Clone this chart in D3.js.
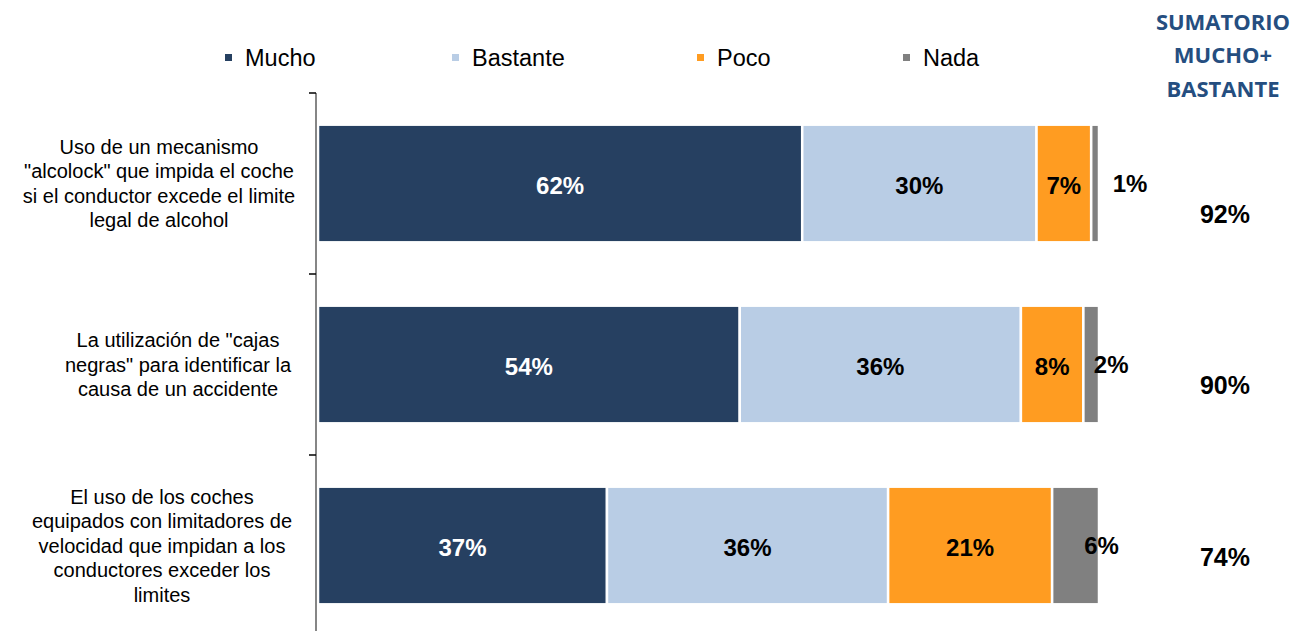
<!DOCTYPE html>
<html>
<head>
<meta charset="utf-8">
<script src="https://cdn.jsdelivr.net/npm/d3@7"></script>
<style>
  body { margin: 0; background: #fff; }
  svg { display: block; }
</style>
</head>
<body>
<svg class="grafico" width="1307" height="631"></svg>
<script>
// datos
const categorias = [
    ["Uso de un mecanismo", "\"alcolock\" que impida el coche", "si el conductor excede el limite", "legal de alcohol"],
    ["La utilización de \"cajas", "negras\" para identificar la", "causa de un accidente"],
    ["El uso de los coches", "equipados con limitadores de", "velocidad que impidan a los", "conductores exceder los", "limites"]
];
const series = ["Mucho", "Bastante", "Poco", "Nada"];
const mucho = [62, 54, 37];
const bastante = [30, 36, 36];
const poco = [7, 8, 21];
const nada = [1, 2, 6];
const sumatorio = ["92%", "90%", "74%"];
const tituloSuma = ["SUMATORIO", "MUCHO+", "BASTANTE"];

const colores = ["#264061", "#B9CDE5", "#FF9C21", "#808080"];
const coloresTexto = ["#ffffff", "#000000", "#000000", "#000000"];

const svg = d3.select(".grafico");
const width = 1307;
const height = 631;

const filas = categorias.map((c, i) => ({
    id: i, Mucho: mucho[i], Bastante: bastante[i], Poco: poco[i], Nada: nada[i]
}));

// escalas
const x = d3.scaleLinear()
    .domain([0, 100])
    .range([318, 1099]);

const y = d3.scaleBand()
    .domain(filas.map(d => d.id))
    .range([93, 636])
    .paddingInner(0.35)
    .paddingOuter(0.175);

const stack = d3.stack().keys(series);
const capas = stack(filas);

// barras
const grupos = svg.append("g")
    .selectAll("g")
    .data(capas)
    .join("g")
    .attr("fill", (d, i) => colores[i]);

grupos.selectAll("rect")
    .data(d => d)
    .join("rect")
    .attr("x", d => x(d[0]))
    .attr("y", d => y(d.data.id))
    .attr("width", d => x(d[1]) - x(d[0]))
    .attr("height", y.bandwidth())
    .attr("stroke", "#fff")
    .attr("stroke-width", 2.5);

// etiquetas de porcentaje (las pequeñas van desplazadas como en el original)
const desplaz = { "Nada": [35, 20, 26] };
capas.forEach((capa, i) => {
    svg.append("g")
        .selectAll("text")
        .data(capa)
        .join("text")
        .attr("x", (d, j) => (x(d[0]) + x(d[1])) / 2 + ((desplaz[capa.key] || [0, 0, 0])[j]))
        .attr("y", d => y(d.data.id) + y.bandwidth() / 2 + (capa.key === "Nada" ? 0 : 2))
        .attr("dy", "0.35em")
        .attr("text-anchor", "middle")
        .attr("font-family", "Liberation Sans, Arial, sans-serif")
        .attr("font-weight", "bold")
        .attr("font-size", 24)
        .attr("fill", coloresTexto[i])
        .text(d => (d[1] - d[0]) + "%");
});

// eje vertical
const paso = y.step();
const eje = svg.append("g");
eje.append("line")
    .attr("x1", 316).attr("x2", 316)
    .attr("y1", y.range()[0]).attr("y2", y.range()[1])
    .attr("stroke", "#868686")
    .attr("stroke-width", 2);
eje.selectAll(".tick")
    .data(filas.map(d => d.id))
    .join("line")
    .attr("class", "tick")
    .attr("x1", 309).attr("x2", 316)
    .attr("y1", d => y(d) - paso * y.paddingInner() / 2)
    .attr("y2", d => y(d) - paso * y.paddingInner() / 2)
    .attr("stroke", "#000")
    .attr("stroke-width", 1.5);

// etiquetas de categoría
const lineaAlto = 24.5;
const centroX = [159, 178, 162];
svg.append("g")
    .selectAll("text")
    .data(categorias)
    .join("text")
    .attr("text-anchor", "middle")
    .attr("font-family", "Liberation Sans, Arial, sans-serif")
    .attr("font-size", 20)
    .attr("fill", "#000")
    .each(function (lineas, i) {
        const centro = y(i) + y.bandwidth() / 2;
        const inicio = centro - (lineas.length - 1) * lineaAlto / 2;
        d3.select(this).selectAll("tspan")
            .data(lineas)
            .join("tspan")
            .attr("x", centroX[i])
            .attr("y", (l, k) => inicio + k * lineaAlto)
            .attr("dy", "0.35em")
            .text(l => l);
    });

// leyenda
const leyendaX = [225, 452, 697, 903];
const leyenda = svg.append("g")
    .selectAll("g")
    .data(series)
    .join("g")
    .attr("transform", (d, i) => `translate(${leyendaX[i]}, 58)`);
leyenda.append("rect")
    .attr("x", 0).attr("y", -4)
    .attr("width", 7).attr("height", 7)
    .attr("fill", (d, i) => colores[i]);
leyenda.append("text")
    .attr("x", 20)
    .attr("dy", "0.35em")
    .attr("font-family", "Liberation Sans, Arial, sans-serif")
    .attr("font-size", 23.5)
    .attr("fill", "#000")
    .text(d => d);

// columna sumatorio
svg.append("g")
    .selectAll("text")
    .data(tituloSuma)
    .join("text")
    .attr("x", 1223)
    .attr("y", (d, i) => 22 + i * 33.5)
    .attr("dy", "0.35em")
    .attr("text-anchor", "middle")
    .attr("font-family", "Open Sans, Noto Sans, sans-serif")
    .attr("font-weight", "bold")
    .attr("font-size", 22)
    .attr("fill", "#254E80")
    .text(d => d);

const sumaDy = [31, 21, 12];
svg.append("g")
    .selectAll("text")
    .data(sumatorio)
    .join("text")
    .attr("x", 1225)
    .attr("y", (d, i) => y(i) + y.bandwidth() / 2 + sumaDy[i])
    .attr("dy", "0.35em")
    .attr("text-anchor", "middle")
    .attr("font-family", "Liberation Sans, Arial, sans-serif")
    .attr("font-weight", "bold")
    .attr("font-size", 25)
    .attr("fill", "#000")
    .text(d => d);
</script>
</body>
</html>
